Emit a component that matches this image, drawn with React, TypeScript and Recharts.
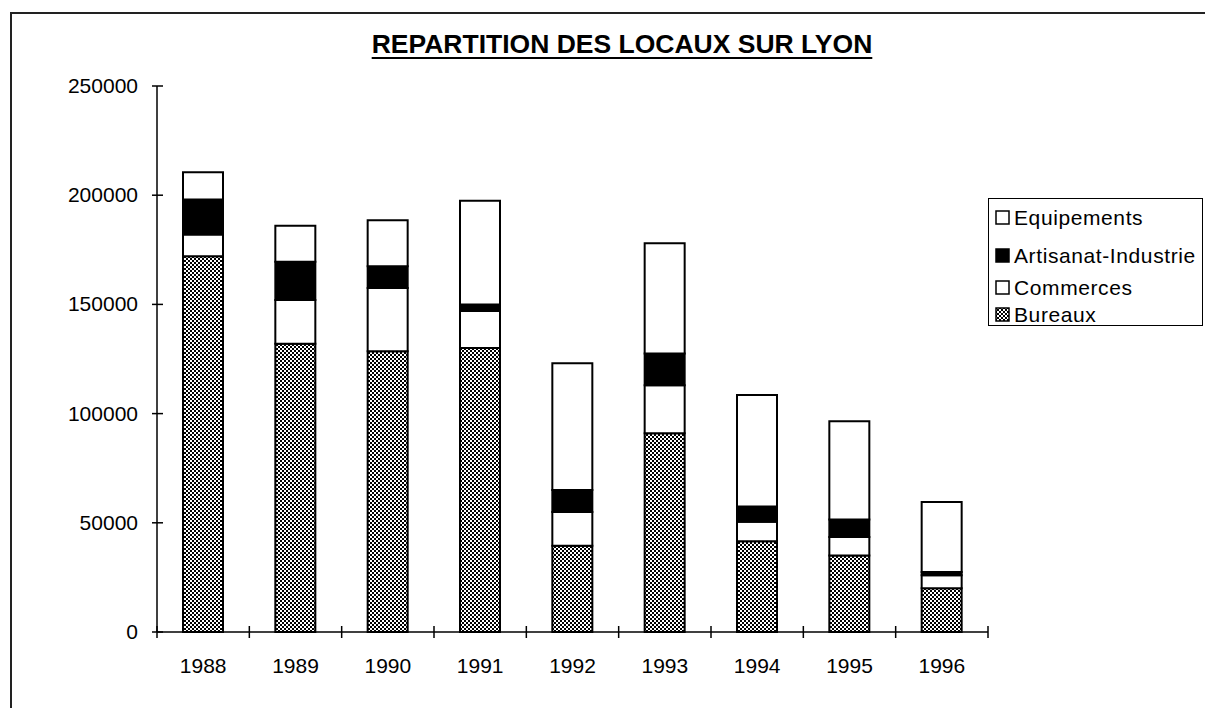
import { Bar, BarChart, XAxis, YAxis, Legend } from "recharts";

const years = ["1988", "1989", "1990", "1991", "1992", "1993", "1994", "1995", "1996"];
const bureaux = [172000, 132000, 128500, 130000, 39500, 91000, 41500, 35000, 20000];
const commerces = [10000, 20000, 29000, 17000, 15500, 22000, 9000, 8500, 6000];
const artisanat = [16000, 17500, 10000, 3000, 10000, 14500, 7000, 8000, 1500];
const equipements = [12500, 16500, 21000, 47500, 58000, 50500, 51000, 45000, 32000];
const yTicks = [0, 50000, 100000, 150000, 200000, 250000];

const data = years.map((year, i) => ({
  year,
  Bureaux: bureaux[i],
  Commerces: commerces[i],
  "Artisanat-Industrie": artisanat[i],
  Equipements: equipements[i],
}));

const FONT = "'Liberation Sans', Arial, sans-serif";
const PLOT_WIDTH = 831;
const HALF_BAND = PLOT_WIDTH / years.length / 2;

/**
 * Y tick: label plus a tick line crossing the axis
 */
const YTick = (props: any) => {
  const { x, y, payload } = props;
  return (
    <g>
      <line x1={x - 5} x2={x + 6} y1={y} y2={y} stroke="#000" strokeWidth={1.5} />
      <text x={x - 19} y={y} dy={7} textAnchor="end" fontSize={21} fontFamily={FONT} fill="#000">
        {payload.value}
      </text>
    </g>
  );
};

/**
 * X tick: year label, tick marks sit on category boundaries
 */
const XTick = (props: any) => {
  const { x, y, payload, index } = props;
  const last = index === years.length - 1;
  return (
    <g>
      <line x1={x - HALF_BAND} x2={x - HALF_BAND} y1={y - 6} y2={y + 6} stroke="#000" strokeWidth={1.5} />
      {last && (
        <line x1={x + HALF_BAND} x2={x + HALF_BAND} y1={y - 6} y2={y + 6} stroke="#000" strokeWidth={1.5} />
      )}
      <text x={x} y={y + 41} textAnchor="middle" fontSize={21} fontFamily={FONT} fill="#000">
        {payload.value}
      </text>
    </g>
  );
};

const legendRows = [
  { name: "Equipements", fill: "#fff", top: 8 },
  { name: "Artisanat-Industrie", fill: "#000", top: 46 },
  { name: "Commerces", fill: "#fff", top: 78 },
  { name: "Bureaux", fill: "pattern", top: 105 },
];

const Swatch = ({ fill }: { fill: string }) => (
  <svg width={15} height={15} style={{ display: "block", flex: "none" }}>
    <defs>
      <pattern id="legendHatch" width={4} height={4} patternUnits="userSpaceOnUse">
        <rect width={4} height={4} fill="#fff" />
        <rect width={2} height={2} fill="#000" />
        <rect x={2} y={2} width={2} height={2} fill="#000" />
      </pattern>
    </defs>
    <rect
      x={1}
      y={1}
      width={13}
      height={13}
      fill={fill === "pattern" ? "url(#legendHatch)" : fill}
      stroke="#000"
      strokeWidth={1.5}
    />
  </svg>
);

const LegendBox = () => (
  <div
    style={{
      position: "relative",
      width: 213,
      height: 126,
      border: "1.5px solid #000",
      background: "#fff",
      fontFamily: FONT,
      fontSize: 21,
      letterSpacing: 0.6,
      lineHeight: "21px",
      color: "#000",
    }}
  >
    {legendRows.map((r) => (
      <div
        key={r.name}
        style={{ position: "absolute", left: 6, top: r.top, display: "flex", alignItems: "center", gap: 4, whiteSpace: "nowrap" }}
      >
        <Swatch fill={r.fill} />
        <span>{r.name}</span>
      </div>
    ))}
  </div>
);

const App = () => {
  return (
    <div style={{ position: "absolute", left: 0, top: 0, width: 1205, height: 708, background: "#fff", overflow: "hidden" }}>
      <div
        style={{
          position: "absolute",
          left: 10,
          top: 12,
          width: 1300,
          height: 800,
          borderLeft: "2px solid #222",
          borderTop: "2px solid #222",
        }}
      />
      <div
        style={{
          position: "absolute",
          left: 0,
          width: 1244,
          top: 29,
          textAlign: "center",
          fontFamily: FONT,
          fontWeight: "bold",
          fontSize: 26.5,
          textDecoration: "underline",
          textUnderlineOffset: 4,
          textDecorationThickness: 2,
          color: "#000",
        }}
      >
        REPARTITION DES LOCAUX SUR LYON
      </div>
      <BarChart
        width={1205}
        height={708}
        data={data}
        margin={{ top: 86, right: 217, bottom: 36, left: 0 }}
        barSize={40}
        style={{ position: "absolute", left: 0, top: 0 }}
      >
        <defs>
          <pattern id="hatch" width={4} height={4} patternUnits="userSpaceOnUse">
            <rect width={4} height={4} fill="#fff" />
            <rect width={2} height={2} fill="#000" />
            <rect x={2} y={2} width={2} height={2} fill="#000" />
          </pattern>
        </defs>
        <XAxis
          dataKey="year"
          height={40}
          tickSize={0}
          tickMargin={0}
          tickLine={false}
          axisLine={{ stroke: "#000", strokeWidth: 1.5 }}
          tick={<XTick />}
          interval={0}
        />
        <YAxis
          width={157}
          domain={[0, 250000]}
          ticks={yTicks}
          tickSize={0}
          tickMargin={0}
          tickLine={false}
          axisLine={{ stroke: "#000", strokeWidth: 1.5 }}
          tick={<YTick />}
          interval={0}
        />
        <Legend
          verticalAlign="middle"
          content={<LegendBox />}
          wrapperStyle={{ left: 988, top: 198, width: 216, height: 129 }}
        />
        <Bar dataKey="Bureaux" stackId="a" fill="url(#hatch)" stroke="#000" strokeWidth={2} isAnimationActive={false} />
        <Bar dataKey="Commerces" stackId="a" fill="#fff" stroke="#000" strokeWidth={2} isAnimationActive={false} />
        <Bar dataKey="Artisanat-Industrie" stackId="a" fill="#000" stroke="#000" strokeWidth={2} isAnimationActive={false} />
        <Bar dataKey="Equipements" stackId="a" fill="#fff" stroke="#000" strokeWidth={2} isAnimationActive={false} />
      </BarChart>
    </div>
  );
};

export default App;
